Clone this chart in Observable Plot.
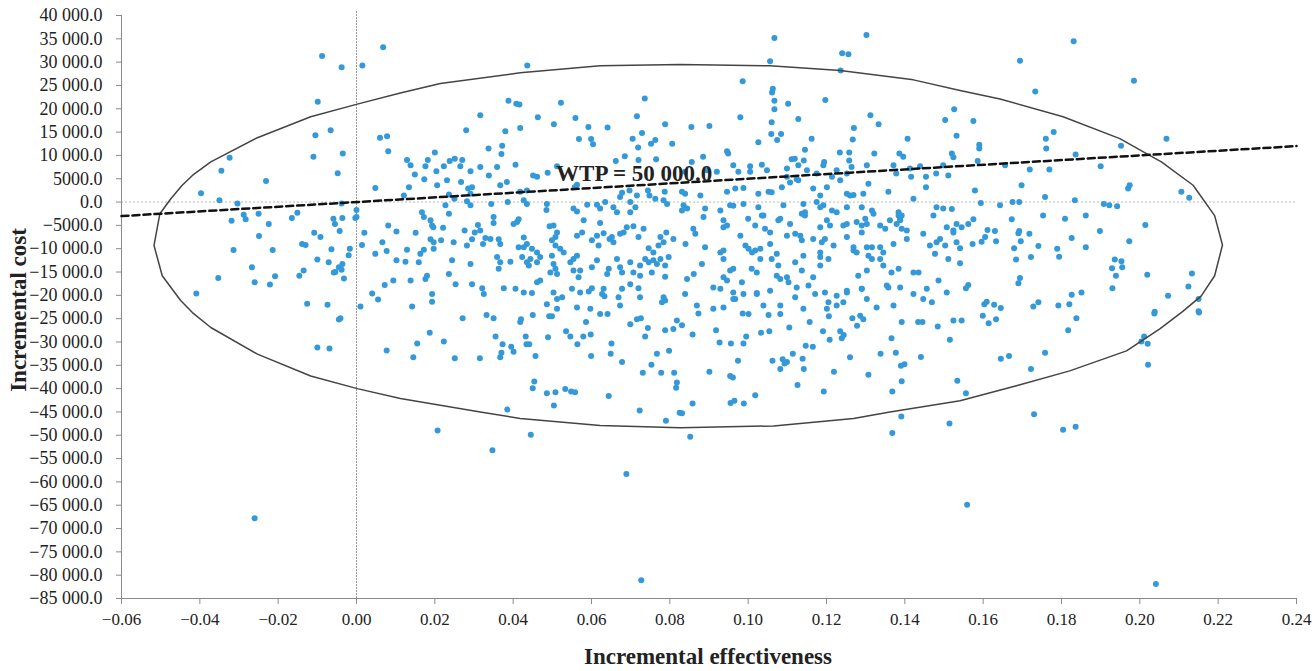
<!DOCTYPE html>
<html>
<head>
<meta charset="utf-8">
<script src="https://cdn.jsdelivr.net/npm/d3@7"></script>
<script src="https://cdn.jsdelivr.net/npm/@observablehq/plot@0.6"></script>
<style>
  html, body { margin: 0; padding: 0; background: #fff; overflow: hidden; }
  #chart { width: 1316px; height: 671px; }
</style>
</head>
<body>
<div id="chart"></div>
<script>
// ---- Tick values ----
const xTicks = [-0.06, -0.04, -0.02, 0, 0.02, 0.04, 0.06, 0.08, 0.10, 0.12, 0.14, 0.16, 0.18, 0.20, 0.22, 0.24];
const yTicks = [40000, 35000, 30000, 25000, 20000, 15000, 10000, 5000, 0, -5000, -10000, -15000, -20000, -25000, -30000,
  -35000, -40000, -45000, -50000, -55000, -60000, -65000, -70000, -75000, -80000, -85000];

// ---- Simulated ICER pairs [incremental effectiveness, incremental cost], read from the picture by region ----
const pUpperLeft = [[-0.0088,31300],[-0.0038,28900],[0.0015,29300],[0.0068,33200],[-0.0099,21500],[-0.0066,15400],[-0.0105,14300],[0.006,13800],[0.0078,14100],[0.0081,10900],[-0.0035,10400],[-0.011,9700],[-0.0324,9500]];
const pMidLeft = [[-0.0345,6700],[-0.0231,4500],[-0.0048,6200],[-0.0397,1900],[-0.035,400],[-0.0304,-300],[0.0048,3000],[-0.0038,-300],[0,-1700],[0,-3200],[-0.0288,-2700],[-0.0283,-3700],[-0.0319,-4000],[-0.025,-2500],[-0.0224,-4700],[-0.0165,-3400],[-0.0151,-2300],[-0.0059,-3600],[-0.0055,-4700],[-0.0036,-3400],[-0.0003,-3400],[0.0081,-5000],[0.0102,-6300],[0.002,-6600],[-0.0249,-7300],[-0.0108,-6600],[-0.0092,-7500],[-0.0043,-6200],[-0.0139,-9000],[-0.013,-9200],[0.0014,-9200],[0.0066,-8600],[-0.0314,-10300],[-0.0214,-10300],[-0.0064,-10100],[-0.0017,-10000],[-0.002,-11400],[0.0048,-11100],[0.0077,-10500],[0.0102,-12500],[-0.01,-12300],[-0.0071,-12900],[-0.0036,-13300],[-0.0045,-14000],[-0.0038,-14500],[-0.0058,-15100],[-0.0054,-15000],[-0.0135,-14700],[-0.0146,-15800],[-0.0267,-14000],[-0.0032,-16400],[-0.0208,-15900],[-0.0221,-17700],[-0.026,-17200],[-0.0353,-16300],[-0.0409,-19600],[-0.0126,-21800],[-0.0074,-22000],[0.001,-22400],[0.004,-19600],[0.0055,-20900],[0.0072,-17800],[0.0094,-16800]];
const pLowLeft = [[-0.0045,-25200],[-0.0041,-24900],[-0.01,-31200],[-0.0069,-31400],[0.0077,-31800],[-0.026,-67800]];
const pUpperMidA = [[0.0436,29300],[0.0388,21700],[0.0408,21100],[0.0416,20900],[0.0522,21300],[0.0316,18600],[0.028,15400],[0.0463,18200],[0.0504,16700],[0.0559,18000],[0.0592,16100],[0.0641,16000],[0.0736,22200],[0.0716,18400],[0.0788,16700],[0.038,15200],[0.0418,15900],[0.0568,13500],[0.0599,13500],[0.0604,12400],[0.0705,13600],[0.0729,14800],[0.0752,12500],[0.0763,13300],[0.0719,11700],[0.0806,12500],[0.0337,11500],[0.0372,12100],[0.037,10300],[0.02,10600],[0.0129,9000],[0.0182,9000],[0.0238,8800],[0.0251,9300],[0.027,9000],[0.0662,8800],[0.0685,9800],[0.072,9000],[0.0765,9200]];
const pUpperMidB = [[0.1067,35200],[0.1302,35800],[0.1056,30200],[0.124,31900],[0.1256,31700],[0.1236,28200],[0.0986,25900],[0.1063,24300],[0.1061,23500],[0.1067,21700],[0.1067,19900],[0.1102,21100],[0.1197,21900],[0.098,18200],[0.1128,17800],[0.1312,18600],[0.1333,16700],[0.106,17100],[0.1059,14600],[0.1084,14600],[0.1074,13300],[0.1026,12800],[0.0855,16100],[0.0901,16300],[0.127,15900],[0.1267,13400],[0.1162,13600],[0.1145,11200],[0.1234,10600],[0.1258,10600],[0.1322,10400],[0.1386,10400],[0.1396,9700],[0.1407,13600],[0.1503,17600],[0.1526,19900],[0.1532,14200],[0.152,10400],[0.1524,9600],[0.0946,10900],[0.0949,10400],[0.0885,9700],[0.0856,8600],[0.1111,9200],[0.1119,9300],[0.1142,8900],[0.1194,8600],[0.1258,8900]];
const pUpperRight = [[0.1831,34500],[0.1694,30300],[0.1985,26000],[0.1733,23700],[0.1575,17400],[0.178,15000],[0.176,13600],[0.1761,11500],[0.159,12300],[0.159,11500],[0.1952,12100],[0.2068,13600],[0.1836,10200],[0.1586,8800]];
const pMidA = [[0.0138,7900],[0.0176,7700],[0.0204,6600],[0.0223,7700],[0.0265,7700],[0.0316,7500],[0.0359,7500],[0.0406,8000],[0.0512,7700],[0.0149,5900],[0.0173,4900],[0.0134,3200],[0.0206,3600],[0.0231,4700],[0.0267,4300],[0.0291,6600],[0.0338,5700],[0.0285,2900],[0.0295,3200],[0.0291,1800],[0.0236,1600],[0.0121,1400],[0.025,700],[0.0227,-700],[0.0236,-2500],[0.0282,200],[0.0291,-700],[0.0344,-400],[0.0386,0],[0.0367,3600],[0.0384,4300],[0.0418,2200],[0.0435,2500],[0.0451,5700],[0.0461,5400],[0.0488,6300],[0.0427,400],[0.0435,-400],[0.0486,-400],[0.0485,-1700],[0.0557,3200],[0.0563,3700],[0.0554,-1400],[0.0563,-2000],[0.0589,-600],[0.0622,-1400],[0.0614,-600],[0.0635,0],[0.0673,1100],[0.0678,2000],[0.0697,2500],[0.0699,0],[0.0716,1400],[0.0744,2500],[0.0748,1400],[0.0763,700],[0.0784,400],[0.0787,2200],[0.0793,-400],[0.0656,-1100],[0.0665,-2200],[0.0622,-4500],[0.0699,-2200],[0.0712,-1100],[0.0167,-2200],[0.0172,-3200],[0.0189,-3900],[0.0193,-5000],[0.0196,-5400],[0.0151,-6600],[0.0221,-5500],[0.0189,-8000],[0.0197,-8600],[0.0216,-8200],[0.0248,-8600],[0.0276,-6100],[0.0302,-6500],[0.031,-4900],[0.0316,-6100],[0.0282,-9300],[0.0295,-8000],[0.0329,-7700],[0.0342,-7900],[0.0323,-9000],[0.0363,-8000],[0.0367,-9000],[0.0401,-4700],[0.041,-4300],[0.0414,-3700],[0.035,-3200],[0.035,-4500],[0.0427,-7600],[0.0435,-9000],[0.0414,-9700],[0.0427,-9700],[0.0448,-10000],[0.0461,-10800],[0.0493,-5200],[0.0503,-5000],[0.0512,-6500],[0.0508,-7500],[0.0499,-8200],[0.0508,-9300],[0.052,-10000],[0.0529,-10800],[0.0563,-7200],[0.0576,-6500],[0.058,-3900],[0.0601,-8200],[0.0618,-9300],[0.0614,-7200],[0.0631,-6700],[0.0646,-7900],[0.0656,-8600],[0.0652,-7500],[0.0673,-6800],[0.0682,-6500],[0.069,-5400],[0.0707,-5200],[0.072,-7500],[0.0733,-5700],[0.0746,-9900],[0.0758,-10800],[0.0771,-9300],[0.0784,-8600],[0.0776,-7500],[0.0791,-6500],[0.0809,-7900],[0.0129,-10200],[0.0125,-12800],[0.0159,-12900],[0.0163,-11100],[0.0172,-10200],[0.0197,-10000],[0.0244,-12500],[0.0291,-13300],[0.0359,-11800],[0.0367,-12900],[0.0363,-14300],[0.0393,-12800],[0.0423,-11800],[0.0435,-12900],[0.0444,-12200],[0.044,-13600],[0.0461,-12900],[0.0469,-11800],[0.0499,-11500],[0.0503,-13300],[0.0508,-14300],[0.0495,-15100],[0.0512,-15400],[0.0546,-12900],[0.0554,-12200],[0.0563,-11500],[0.0554,-14700],[0.0571,-14700],[0.0567,-16100],[0.0601,-14000],[0.0614,-12500],[0.0644,-14300],[0.064,-15400],[0.0665,-12200],[0.0673,-14000],[0.0678,-15100],[0.0699,-12900],[0.0707,-15100],[0.0724,-13600],[0.0737,-12200],[0.0746,-12900],[0.0758,-12500],[0.0767,-13300],[0.0776,-12200],[0.0788,-13600],[0.0797,-11800],[0.0724,-15800],[0.0754,-15100],[0.0788,-16000],[0.0138,-16800],[0.018,-15800],[0.0176,-16500],[0.0236,-15400],[0.0253,-17600],[0.0193,-19700],[0.0193,-21400],[0.0142,-22400],[0.0295,-17600],[0.0321,-18500],[0.0325,-19700],[0.0376,-18500],[0.0406,-18600],[0.0427,-19400],[0.0448,-19500],[0.0461,-17200],[0.0469,-16800],[0.0503,-19400],[0.0512,-20800],[0.0525,-20400],[0.0512,-22900],[0.055,-18600],[0.0571,-19400],[0.0593,-19200],[0.0601,-18500],[0.0563,-22600],[0.0597,-22900],[0.0631,-18600],[0.0627,-19700],[0.0633,-20200],[0.0669,-20400],[0.0678,-18600],[0.0699,-17600],[0.072,-18500],[0.0724,-20400],[0.0784,-20400],[0.0788,-21100],[0.078,-21500],[0.0486,-21900],[0.0673,-22200]];
const pMidB = [[0.0962,7900],[0.1005,7700],[0.1035,8000],[0.1099,7200],[0.1128,7900],[0.115,6800],[0.1192,7900],[0.1226,6800],[0.1264,7500],[0.1303,7900],[0.1371,7900],[0.1413,7200],[0.1439,7700],[0.1498,7900],[0.1511,5700],
  [0.0839,6500],[0.0895,6800],[0.092,6500],[0.0975,6500],[0.1005,6500],[0.1048,6800],[0.1099,5400],[0.1128,4700],[0.1175,6100],[0.1214,5400],[0.1235,4700],[0.1252,6100],[0.1378,6100],[0.1416,5400],[0.1454,5400],[0.148,6100],
  [0.0831,2200],[0.0839,1800],[0.0878,1400],[0.0946,2200],[0.0967,2900],[0.0988,3000],[0.1026,1800],[0.1052,2200],[0.106,2100],[0.1086,3200],[0.1107,4200],[0.1124,4900],[0.1166,2900],[0.1184,1400],[0.1201,3200],[0.1252,1800],[0.126,1400],[0.1269,1500],[0.1294,1800],[0.1307,3900],[0.1358,2200],[0.1422,700],[0.1454,3200],
  [0.0835,-700],[0.0844,-1400],[0.0831,-1800],[0.089,-1400],[0.0929,-1800],[0.0954,-700],[0.0962,-800],[0.0988,-400],[0.1026,-1100],[0.1035,-2900],[0.109,-700],[0.1141,-400],[0.1145,-2200],[0.1175,0],[0.1184,-1100],[0.1192,-700],[0.1214,-1800],[0.1226,-2200],[0.1252,-1100],[0.129,-1100],[0.1316,-1800],[0.132,-2500],[0.1384,-2200],[0.1392,-2900],[0.1388,-3600],[0.1481,-1100],[0.1498,-1400],[0.152,-1500],
  [0.0886,-3200],[0.0937,-3900],[0.0946,-5000],[0.0937,-5400],[0.1,-3600],[0.1018,-5000],[0.1039,-2900],[0.1077,-3900],[0.1082,-3600],[0.1107,-4700],[0.1137,-2500],[0.1145,-2900],[0.1184,-5400],[0.1201,-3900],[0.1209,-5000],[0.1243,-5000],[0.1252,-4700],[0.1277,-4300],[0.129,-5000],[0.1299,-3600],[0.1303,-4700],[0.1337,-5000],[0.135,-5700],[0.1362,-3900],[0.1379,-4700],[0.1384,-2900],[0.1388,-3900],[0.1405,-6100],[0.1473,-2900],[0.1507,-5400],[0.1532,-4700],[0.1524,-6100],
  [0.086,-5700],[0.0865,-6800],[0.084,-9000],[0.089,-9700],[0.0929,-10800],[0.0937,-10400],[0.098,-7200],[0.0993,-9300],[0.1001,-10000],[0.101,-10800],[0.1018,-10400],[0.1031,-10000],[0.1043,-5700],[0.1056,-6500],[0.1056,-9000],[0.106,-12200],[0.1073,-11100],[0.1099,-7200],[0.112,-6800],[0.1133,-7200],[0.1137,-8200],[0.1141,-11500],[0.1166,-7900],[0.1188,-8600],[0.1196,-7900],[0.1184,-10800],[0.1184,-11800],[0.1205,-12200],[0.1218,-9300],[0.1252,-7500],[0.1269,-9700],[0.1269,-10400],[0.1277,-10800],[0.129,-6500],[0.1303,-9700],[0.1316,-9700],[0.1307,-11500],[0.1337,-9700],[0.1345,-10800],[0.1371,-9000],[0.1392,-5700],[0.1405,-7900],[0.1447,-6800],[0.1464,-9300],[0.1477,-11100],[0.1481,-8600],[0.149,-7900],[0.1503,-9300],[0.1511,-12200],[0.1524,-6500],[0.1532,-8600],
  [0.0844,-16500],[0.0861,-15400],[0.0882,-13300],[0.0911,-18300],[0.0929,-18600],[0.0937,-12200],[0.0962,-14300],[0.0954,-14700],[0.0937,-16100],[0.0946,-16800],[0.0984,-17200],[0.0962,-19400],[0.0967,-20800],[0.1009,-14300],[0.1022,-15100],[0.1022,-19700],[0.1031,-12200],[0.1056,-19000],[0.1073,-15800],[0.1077,-13600],[0.1082,-16500],[0.1099,-16100],[0.1103,-17200],[0.1124,-18300],[0.112,-12900],[0.1137,-14700],[0.1154,-17900],[0.1166,-16100],[0.1184,-13600],[0.1196,-19400],[0.1205,-21500],[0.1226,-20100],[0.1243,-21500],[0.1252,-19000],[0.1281,-15800],[0.129,-18600],[0.1303,-14700],[0.1316,-12200],[0.1337,-12200],[0.1345,-13600],[0.1354,-17900],[0.1366,-15100],[0.1384,-14300],[0.1388,-18300],[0.1422,-15100],[0.1435,-15100],[0.1447,-20800],[0.1486,-16800],[0.1507,-19400],[0.1456,-18600],
  [0.0839,-19700],[0.0869,-22200],[0.0911,-22900],[0.0937,-22600],[0.0962,-20800],[0.0988,-19700],[0.1022,-19500],[0.1039,-22200],[0.1082,-22200],[0.112,-20400],[0.1141,-22900],[0.1171,-19700],[0.1201,-22900],[0.1226,-22200],[0.1252,-19400],[0.129,-18600],[0.1303,-20800],[0.1328,-22600],[0.1358,-18300],[0.1371,-22200],[0.1422,-19700],[0.1469,-21500]];
const pMidRight = [[0.1719,7000],[0.1769,7000],[0.19,7700],[0.1656,7900],[0.1698,3600],[0.1579,2500],[0.1758,1100],[0.1594,-200],[0.1643,-700],[0.1675,0],[0.1692,0],[0.1834,400],[0.197,2900],[0.1974,3600],[0.2106,2200],[0.2126,900],[0.1908,-400],[0.1922,-700],[0.1942,-900],[0.1753,-2900],[0.1809,-3600],[0.1862,-2900],[0.1673,-3700],[0.1575,-3700],[0.1562,-4700],[0.1545,-5400],[0.2014,-4900],[0.1611,-6000],[0.163,-6200],[0.1692,-6200],[0.169,-6700],[0.1718,-6800],[0.1605,-7500],[0.1596,-8500],[0.1633,-8400],[0.1573,-9000],[0.1696,-8400],[0.1826,-7700],[0.1898,-6200],[0.1973,-8400],[0.1679,-9900],[0.1741,-9400],[0.1789,-10000],[0.1794,-11700],[0.1862,-9700],[0.1684,-12300],[0.1722,-11800],[0.1541,-9900],[0.1541,-13100],[0.1936,-12300],[0.1953,-12700],[0.1929,-14200],[0.1955,-14000],[0.1939,-15800],[0.2019,-15600],[0.2133,-15300],[0.2124,-18100],[0.1694,-16300],[0.169,-17400],[0.1562,-17800],[0.1556,-18500],[0.193,-18500],[0.2072,-20100],[0.215,-20800],[0.1851,-19400],[0.1826,-19900],[0.1609,-21400],[0.1603,-21900],[0.1628,-22000],[0.1645,-22700],[0.1728,-22400],[0.1741,-21500],[0.1792,-22200],[0.182,-21900],[0.2038,-23500],[0.215,-23400]];
const pLowA = [[0.0271,-24900],[0.0332,-24200],[0.035,-24900],[0.0418,-25700],[0.042,-25100],[0.045,-24200],[0.0492,-24500],[0.0499,-24500],[0.0586,-25700],[0.0622,-24000],[0.0641,-24000],[0.0699,-26200],[0.0716,-25100],[0.0726,-24900],[0.0744,-27000],[0.0788,-27500],[0.0809,-27200],[0.0818,-25400],[0.0187,-28000],[0.0155,-30300],[0.0223,-29900],[0.0145,-33300],[0.0251,-33500],[0.0315,-33500],[0.0355,-28800],[0.0373,-30500],[0.0395,-31000],[0.0401,-32100],[0.037,-32300],[0.0367,-33300],[0.0432,-28800],[0.0434,-30500],[0.0441,-30500],[0.0457,-33000],[0.0489,-29000],[0.0535,-27700],[0.0546,-28800],[0.0564,-30500],[0.0579,-28800],[0.0598,-28400],[0.0599,-33000],[0.0649,-32500],[0.0651,-30300],[0.0678,-34300],[0.0737,-28800],[0.0767,-32500],[0.0753,-34900],[0.0731,-36600],[0.0778,-36600],[0.0798,-31900],[0.0811,-36600],[0.0818,-38700],[0.0816,-39800],[0.0454,-38500],[0.045,-39900],[0.0486,-41000],[0.0508,-40800],[0.0533,-40100],[0.0548,-40600],[0.0558,-40800],[0.0504,-43600],[0.0644,-41600],[0.0723,-44700],[0.079,-46900],[0.0385,-44500],[0.0207,-49000],[0.0445,-49900],[0.0347,-53200],[0.0825,-45200]];
const pLowB = [[0.0831,-26400],[0.0873,-23900],[0.0918,-27500],[0.0858,-28400],[0.0927,-30100],[0.0956,-30300],[0.0988,-30300],[0.0995,-28800],[0.1033,-28000],[0.1054,-27700],[0.0986,-23900],[0.1001,-24000],[0.1052,-24200],[0.1082,-24000],[0.1105,-26900],[0.1157,-25700],[0.1191,-27700],[0.1208,-29500],[0.1206,-24500],[0.1235,-27700],[0.1239,-29200],[0.1244,-28500],[0.1266,-24900],[0.1278,-26500],[0.1286,-24400],[0.1294,-25100],[0.1147,-30800],[0.1165,-31000],[0.1114,-32500],[0.1139,-33600],[0.1142,-35800],[0.1088,-33700],[0.1099,-34300],[0.1093,-34600],[0.1062,-34000],[0.1082,-35800],[0.0974,-34000],[0.0901,-36400],[0.0954,-37300],[0.0961,-37600],[0.1018,-41400],[0.0955,-43100],[0.0965,-42600],[0.0989,-43200],[0.0858,-43200],[0.0831,-45300],[0.1126,-39200],[0.1193,-40600],[0.1219,-36400],[0.126,-33300],[0.1307,-37000],[0.1338,-32500],[0.1366,-29200],[0.1377,-32300],[0.139,-35100],[0.1399,-34800],[0.1392,-38400],[0.1368,-40600],[0.1391,-46000],[0.1368,-49500],[0.1441,-33200],[0.1392,-25700],[0.1434,-25700],[0.1445,-25700],[0.1484,-26700],[0.1515,-29500],[0.1524,-25400],[0.1534,-38300],[0.1514,-47500],[0.0852,-50300]];
const pLowRight = [[0.1545,-25400],[0.1599,-24400],[0.1614,-26000],[0.1633,-25100],[0.1838,-24900],[0.1817,-27500],[0.2037,-23900],[0.2151,-23700],[0.2011,-28800],[0.2004,-29900],[0.202,-30400],[0.2021,-34900],[0.1645,-33600],[0.1666,-33000],[0.1758,-32300],[0.1722,-35800],[0.1556,-41000],[0.173,-45500],[0.1804,-48800],[0.1836,-48200]];
const pOutliers = [[0.0689,-58300],[0.0727,-81100],[0.1559,-64900],[0.2041,-81900]];

// ---- Confidence ellipse outline (vertices) ----
const ellipseEff = [-0.0517,-0.0502,-0.0474,-0.0445,-0.0419,-0.0372,-0.0253,-0.0117,0.0002,0.0112,0.0214,0.0418,0.0622,0.0827,0.1056,0.1235,0.1422,0.1541,0.1643,0.1804,0.1949,0.2017,0.2055,0.2136,0.2191,0.2211,0.2191,0.2157,0.2109,0.2051,0.1966,0.1821,0.1685,0.1541,0.1362,0.1269,0.1167,0.1065,0.0827,0.0622,0.0418,0.0316,0.0112,0.0002,-0.0117,-0.0253,-0.0372,-0.0419,-0.0449,-0.0496,-0.0517];
const ellipseCost = [-9300,-2500,700,3600,5700,8600,13800,18300,21000,23400,25400,27700,29200,29500,29200,28200,26200,23900,22100,18300,13600,10400,8600,3600,-2900,-9200,-15800,-20100,-23500,-27200,-31900,-36200,-39400,-42600,-45000,-46400,-47200,-48000,-48400,-47900,-46400,-45000,-42100,-40000,-37300,-32600,-26900,-23700,-21100,-15800,-9300];

// ---- Willingness-to-pay threshold line ----
const wtpEff = [-0.06, 0.24];
const wtpCost = [-3000, 12000];
const wtpLabel = [{e: 0.0709, c: 6000, text: "WTP = 50 000.0"}];

// ---- Build tables ----
const points = [].concat(pUpperLeft, pMidLeft, pLowLeft, pUpperMidA, pUpperMidB, pUpperRight,
  pMidA, pMidB, pMidRight, pLowA, pLowB, pLowRight, pOutliers).map(([e, c]) => ({e, c}));
const ellipse = ellipseEff.map((e, i) => ({e, c: ellipseCost[i]}));
const wtp = wtpEff.map((e, i) => ({e, c: wtpCost[i]}));

const fmtCost = v => {
  const a = Math.abs(v);
  const s = a >= 10000 ? d3.format(",.1f")(a).replace(/,/g, " ") : a.toFixed(1);
  return (v < 0 ? "\u2212" : "") + s;
};
const fmtEff = v => (v < -1e-9 ? "\u2212" : "") + Math.abs(v).toFixed(2);

const serif = "'Liberation Serif', 'Times New Roman', 'DejaVu Serif', serif";

const chart = Plot.plot({
  width: 1316,
  height: 671,
  marginLeft: 121,
  marginRight: 20,
  marginTop: 15,
  marginBottom: 73,
  style: {fontFamily: serif, fontSize: "17px", color: "#222", background: "#fff", overflow: "visible"},
  x: {domain: [-0.06, 0.24], ticks: xTicks, tickFormat: fmtEff, tickSize: 6, tickPadding: 8, label: null},
  y: {domain: [-85000, 40000], ticks: yTicks, tickFormat: fmtCost, tickSize: 5, tickPadding: 14, label: null},
  marks: [
    Plot.ruleY([0], {stroke: "#bbb", strokeWidth: 1, strokeDasharray: "2,2"}),
    Plot.ruleX([0], {stroke: "#777", strokeWidth: 1, strokeDasharray: "1.5,1.5", y1: 40800, y2: -85000}),
    Plot.ruleX([-0.06], {stroke: "#8a8a8a", strokeWidth: 1}),
    Plot.ruleY([-85000], {stroke: "#8a8a8a", strokeWidth: 1}),
    Plot.dot(points, {x: "e", y: "c", r: 3, fill: "#3399d9", stroke: "none"}),
    Plot.line(ellipse, {x: "e", y: "c", stroke: "#444", strokeWidth: 1.5}),
    Plot.line(wtp, {x: "e", y: "c", stroke: "#111", strokeWidth: 2.5, strokeDasharray: "7,4"}),
    Plot.text(wtpLabel, {x: "e", y: "c", text: "text", fontSize: 23, fontWeight: "bold", fill: "#222", fontFamily: serif})
  ]
});

document.getElementById("chart").appendChild(chart);

const svg = d3.select(chart);
svg.selectAll("g[aria-label='y-axis tick label'] text").style("font-size", "18px").style("fill", "#222");
svg.selectAll("g[aria-label='x-axis tick label'] text").style("font-size", "17px").style("fill", "#222");
svg.selectAll("g[aria-label='x-axis tick'] path, g[aria-label='y-axis tick'] path").attr("stroke", "#8a8a8a");
svg.append("text")
  .attr("x", 708).attr("y", 664)
  .attr("text-anchor", "middle")
  .attr("font-family", serif).attr("font-weight", "bold").attr("font-size", 23).attr("fill", "#222")
  .text("Incremental effectiveness");
svg.append("text")
  .attr("transform", "translate(26,310) rotate(-90)")
  .attr("text-anchor", "middle")
  .attr("font-family", serif).attr("font-weight", "bold").attr("font-size", 23).attr("fill", "#222")
  .text("Incremental cost");
</script>
</body>
</html>
